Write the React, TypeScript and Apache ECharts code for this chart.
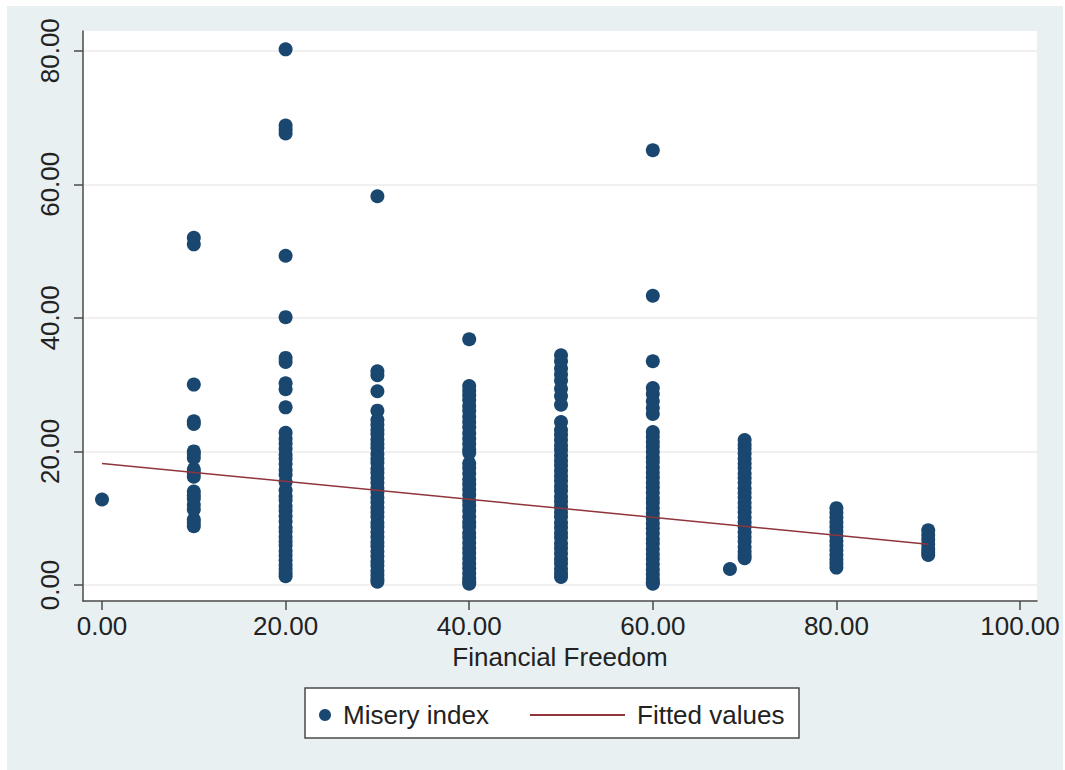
import React, { useEffect, useRef } from "react";
import * as echarts from "echarts";

// Financial Freedom columns (x) and Misery index values (y)
const col0 = [12.8];
const col10 = [52.0, 51.0, 30.0, 24.5, 24.1, 20.0, 19.6, 19.0, 17.3, 16.8, 16.2, 14.0, 13.4, 12.9, 12.0, 11.3, 9.8, 9.3, 8.8];
const col20 = [80.2, 68.8, 68.2, 67.6, 49.3, 40.1, 34.0, 33.4, 30.2, 29.3, 26.6, 22.8, 21.9, 21.2, 20.4, 19.5, 18.9, 18.1, 17.2, 16.5, 15.4, 14.2, 13.3, 12.7, 11.8, 11.1, 10.3, 9.5, 8.6, 8.0, 7.2, 6.5, 5.9, 5.1, 4.4, 3.7, 3.0, 2.4, 1.8, 1.3];
const col30 = [58.2, 32.0, 31.4, 29.0, 26.1, 24.7, 24.0, 23.2, 22.6, 21.8, 21.1, 20.5, 19.6, 18.9, 18.3, 17.4, 16.8, 16.0, 15.3, 14.5, 13.9, 13.1, 12.4, 11.6, 10.9, 10.2, 9.3, 8.7, 7.9, 7.2, 6.4, 5.8, 5.0, 4.3, 3.5, 2.9, 2.1, 1.5, 0.9, 0.5];
const col40 = [36.8, 29.8, 29.1, 28.4, 27.7, 26.8, 26.1, 25.2, 24.4, 23.6, 22.7, 21.9, 21.1, 20.3, 19.8, 18.2, 17.5, 16.7, 15.8, 15.1, 14.3, 13.5, 12.6, 11.9, 11.1, 10.2, 9.4, 8.7, 7.8, 7.1, 6.3, 5.5, 4.8, 4.0, 3.2, 2.5, 1.7, 1.0, 0.5, 0.2];
const col50 = [34.4, 33.5, 32.4, 31.5, 30.6, 29.4, 28.3, 27.0, 24.4, 23.2, 22.5, 21.7, 20.9, 20.2, 19.4, 18.6, 17.9, 17.1, 16.3, 15.6, 14.8, 14.1, 13.2, 12.5, 11.7, 10.9, 10.2, 9.3, 8.6, 7.8, 7.1, 6.2, 5.5, 4.7, 3.9, 3.2, 2.4, 1.7, 1.2];
const col60 = [65.1, 43.3, 33.5, 29.5, 28.6, 27.5, 26.5, 25.6, 22.9, 22.2, 21.4, 20.7, 19.9, 19.1, 18.4, 17.6, 16.8, 16.1, 15.3, 14.6, 13.8, 13.0, 12.3, 11.5, 10.7, 10.0, 9.2, 8.5, 7.7, 6.9, 6.2, 5.4, 4.6, 3.9, 3.1, 2.3, 1.6, 0.9, 0.4, 0.2];
const col68 = [2.4];
const col70 = [21.7, 21.0, 20.4, 19.7, 18.9, 18.2, 17.5, 16.7, 16.0, 15.3, 14.5, 13.8, 13.1, 12.3, 11.6, 10.9, 10.1, 9.4, 8.7, 7.9, 7.2, 6.5, 5.7, 5.0, 4.4, 4.0];
const col80 = [11.5, 10.8, 10.1, 9.4, 8.7, 8.0, 7.3, 6.6, 5.9, 5.2, 4.5, 3.8, 3.2, 2.6];
const col90 = [8.2, 7.5, 6.8, 6.1, 5.4, 4.9, 4.5];

const columnX = [0, 10, 20, 30, 40, 50, 60, 68.4, 70, 80, 90];
const columnY = [col0, col10, col20, col30, col40, col50, col60, col68, col70, col80, col90];

// Fitted values line endpoints
const fitX = [0, 90];
const fitY = [18.2, 6.1];

const xTicks = [0, 20, 40, 60, 80, 100];
const yTicks = [0, 20, 40, 60, 80];

export default function App() {
  const ref = useRef<HTMLDivElement>(null);
  useEffect(() => {
    if (!ref.current) return;
    const chart = echarts.init(ref.current, null, { renderer: "svg" });
    const scatterData: number[][] = [];
    columnX.forEach((x, i) => columnY[i].forEach((y) => scatterData.push([x, y])));
    const fitData = fitX.map((x, i) => [x, fitY[i]]);
    const font = "Arial, 'Liberation Sans', Helvetica, sans-serif";
    const axisColor = "#4a4a4a";
    chart.setOption({
      animation: false,
      backgroundColor: "#ffffff",
      textStyle: { fontFamily: font },
      graphic: [
        {
          type: "rect",
          z: -10,
          silent: true,
          shape: { x: 7, y: 6, width: 1056, height: 764 },
          style: { fill: "#e8f0f2" },
        },
        {
          type: "rect",
          z: 5,
          silent: true,
          shape: { x: 305, y: 688, width: 494, height: 50 },
          style: { fill: "#ffffff", stroke: "#4a4a4a", lineWidth: 1.5 },
        },
      ],
      grid: {
        left: 83,
        right: 1065 - 1037,
        top: 31,
        bottom: 770 - 601,
        show: true,
        backgroundColor: "#ffffff",
        borderWidth: 0,
      },
      xAxis: {
        type: "value",
        min: -2.07,
        max: 101.85,
        name: "Financial Freedom",
        nameLocation: "middle",
        nameGap: 37,
        nameTextStyle: { fontSize: 26, color: "#222", fontFamily: font },
        axisLine: { show: true, onZero: false, lineStyle: { color: axisColor, width: 1.5 } },
        axisTick: { show: true, length: 9, customValues: xTicks, lineStyle: { color: axisColor, width: 1.5 } },
        axisLabel: {
          customValues: xTicks,
          margin: 12,
          fontSize: 26,
          color: "#222",
          fontFamily: font,
          formatter: (v: number) => v.toFixed(2),
        },
        splitLine: { show: false },
      },
      yAxis: {
        type: "value",
        min: -2.4,
        max: 82.95,
        axisLine: { show: true, onZero: false, lineStyle: { color: axisColor, width: 1.5 } },
        axisTick: { show: true, length: 9, customValues: yTicks, lineStyle: { color: axisColor, width: 1.5 } },
        axisLabel: {
          customValues: yTicks,
          rotate: 90,
          margin: 20,
          fontSize: 26,
          color: "#222",
          fontFamily: font,
          formatter: (v: number) => v.toFixed(2),
        },
        splitLine: { show: true, lineStyle: { color: "#ebebeb", width: 1.5 } },
      },
      legend: [
        {
          data: ["Misery index"],
          left: 314,
          top: 697,
          itemWidth: 12,
          itemHeight: 12,
          z: 10,
          textStyle: { fontSize: 26, color: "#222", fontFamily: font, padding: [0, 0, 0, 7] },
        },
        {
          data: [{ name: "Fitted values", icon: "rect" }],
          left: 525,
          top: 697,
          itemWidth: 95,
          itemHeight: 2,
          z: 10,
          itemStyle: { color: "#90353b", borderWidth: 0 },
          textStyle: { fontSize: 26, color: "#222", fontFamily: font, padding: [0, 0, 0, 7] },
        },
      ],
      series: [
        {
          name: "Misery index",
          type: "scatter",
          data: scatterData,
          symbol: "circle",
          symbolSize: 14,
          itemStyle: { color: "#1a476f", opacity: 1 },
          z: 2,
        },
        {
          name: "Fitted values",
          type: "line",
          data: fitData,
          symbol: "none",
          showSymbol: false,
          lineStyle: { color: "#90353b", width: 1.5 },
          itemStyle: { color: "#90353b" },
          z: 3,
        },
      ],
    });
    return () => chart.dispose();
  }, []);
  return (
    <div
      ref={ref}
      style={{ position: "absolute", left: 0, top: 0, width: 1065, height: 770 }}
    />
  );
}
